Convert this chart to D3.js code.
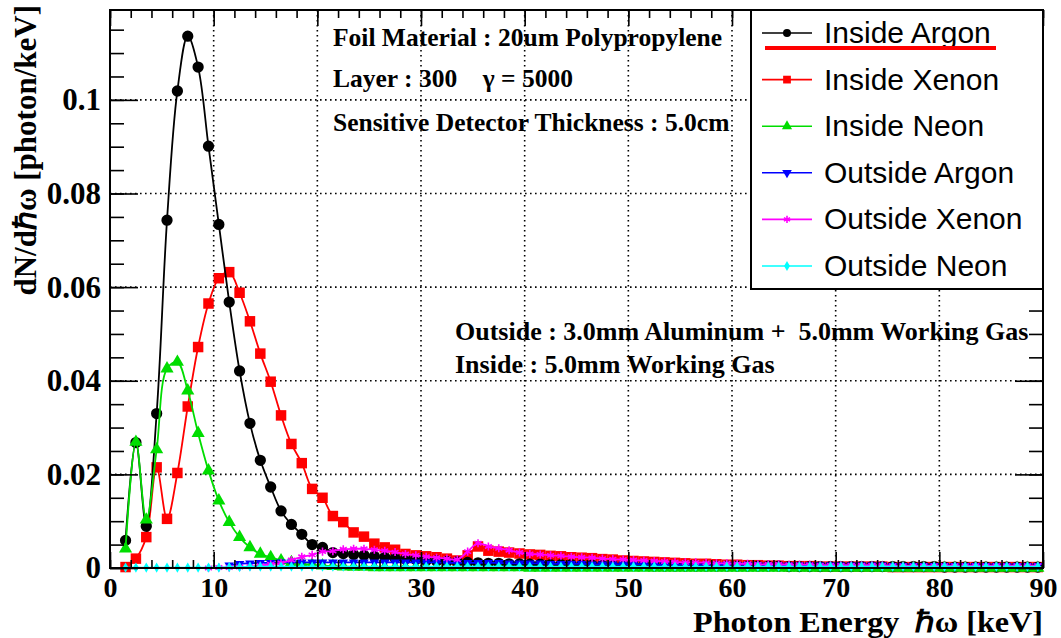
<!DOCTYPE html>
<html>
<head>
<meta charset="utf-8">
<script src="https://cdn.jsdelivr.net/npm/d3@7"></script>
<style>
  body { margin: 0; background: #ffffff; }
  svg { display: block; }
  text { white-space: pre; }
</style>
</head>
<body>
<div class="chart"></div>
<script>
/* Photon spectra, one value per 1 keV bin, first bin centred on 1.5 keV */
var BIN_START = 1.5;

var insideArgon = [
  0.0059, 0.0268, 0.0089, 0.0330, 0.0743, 0.1019, 0.1136, 0.1070, 0.0901,
  0.0734, 0.0568, 0.0421, 0.0309, 0.0230, 0.0173, 0.0122, 0.0093, 0.0072, 0.0050,
  0.0044, 0.0033, 0.0031, 0.0029, 0.0027, 0.0025, 0.0023, 0.0021, 0.0019, 0.0018,
  0.0016, 0.0015, 0.0014, 0.0013, 0.0012, 0.0011, 0.0010, 0.0010, 0.0009, 0.0009,
  0.0008, 0.0008, 0.0007, 0.0007, 0.0007, 0.0006, 0.0006, 0.0006, 0.0005, 0.0005,
  0.0005, 0.0005, 0.0004, 0.0004, 0.0004, 0.0004, 0.0004, 0.0004, 0.0004, 0.0004,
  0.0004, 0.0004, 0.0004, 0.0004, 0.0004, 0.0003, 0.0003, 0.0003, 0.0003, 0.0003,
  0.0003, 0.0003, 0.0003, 0.0003, 0.0003, 0.0003, 0.0003, 0.0003, 0.0003, 0.0003,
  0.0002, 0.0002, 0.0002, 0.0002, 0.0002, 0.0002, 0.0002, 0.0002, 0.0002, 0.0002
];

var insideXenon = [
  0.0002, 0.0020, 0.0066, 0.0215, 0.0105, 0.0203, 0.0345, 0.0472, 0.0565,
  0.0619, 0.0632, 0.0588, 0.0527, 0.0458, 0.0398, 0.0326, 0.0265, 0.0224, 0.0169,
  0.0150, 0.0111, 0.0098, 0.0076, 0.0067, 0.0052, 0.0044, 0.0039, 0.0030, 0.0027,
  0.0025, 0.0023, 0.0020, 0.0016, 0.0027, 0.0046, 0.0037, 0.0035, 0.0033, 0.0031,
  0.0029, 0.0028, 0.0026, 0.0025, 0.0023, 0.0022, 0.0021, 0.0019, 0.0018, 0.0016,
  0.0015, 0.0014, 0.0013, 0.0012, 0.0011, 0.0010, 0.0009, 0.0009, 0.0008, 0.0007,
  0.0007, 0.0006, 0.0006, 0.0005, 0.0005, 0.0004, 0.0004, 0.0004, 0.0003, 0.0003,
  0.0003, 0.0003, 0.0003, 0.0003, 0.0003, 0.0002, 0.0002, 0.0002, 0.0002, 0.0002,
  0.0002, 0.0002, 0.0002, 0.0002, 0.0002, 0.0002, 0.0002, 0.0002, 0.0002, 0.0002
];

var insideNeon = [
  0.0041, 0.0269, 0.0103, 0.0253, 0.0426, 0.0440, 0.0379, 0.0288, 0.0208,
  0.0144, 0.0098, 0.0066, 0.0044, 0.0030, 0.0023, 0.0016, 0.0012, 0.0009, 0.0007,
  0.0005, 0.0004, 0.0003, 0.0002, 0.0002, 0.0001, 0.0001, 0.0001, 0.0001, 0.0001,
  0.0001, 0.0001, 0.0001, 0.0001, 0.0001, 0.0001, 0.0001, 0.0001, 0.0001, 0.0001,
  0.0000, 0.0000, 0.0000, 0.0000, 0.0000, 0.0000, 0.0000, 0.0000, 0.0000, 0.0000,
  0.0000, 0.0000, 0.0000, 0.0000, 0.0000, 0.0000, 0.0000, 0.0000, 0.0000, 0.0000,
  0.0000, 0.0000, 0.0000, 0.0000, 0.0000, 0.0000, 0.0000, 0.0000, 0.0000, 0.0000,
  0.0000, 0.0000, 0.0000, 0.0000, 0.0000, 0.0000, 0.0000, 0.0000, 0.0000, 0.0000,
  0.0000, 0.0000, 0.0000, 0.0000, 0.0000, 0.0000, 0.0000, 0.0000, 0.0000, 0.0000
];

var outsideArgon = [
  null, null, null, null, null, null, null, null, null,
  null, 0.0006, 0.0009, 0.0010, 0.0011, 0.0011, 0.0012, 0.0012, 0.0012, 0.0012,
  0.0012, 0.0012, 0.0012, 0.0012, 0.0012, 0.0012, 0.0012, 0.0012, 0.0012, 0.0012,
  0.0012, 0.0012, 0.0011, 0.0011, 0.0011, 0.0011, 0.0011, 0.0011, 0.0010, 0.0010,
  0.0010, 0.0010, 0.0009, 0.0009, 0.0009, 0.0009, 0.0008, 0.0008, 0.0008, 0.0008,
  0.0008, 0.0008, 0.0007, 0.0007, 0.0007, 0.0007, 0.0007, 0.0007, 0.0007, 0.0007,
  0.0007, 0.0007, 0.0007, 0.0006, 0.0006, 0.0006, 0.0006, 0.0006, 0.0006, 0.0006,
  0.0006, 0.0006, 0.0006, 0.0006, 0.0006, 0.0005, 0.0005, 0.0005, 0.0005, 0.0005,
  0.0005, 0.0005, 0.0005, 0.0005, 0.0005, 0.0005, 0.0005, 0.0005, 0.0005, 0.0005
];

var outsideXenon = [
  null, null, null, null, null, null, null, null, 0.0000,
  0.0001, 0.0001, 0.0002, 0.0003, 0.0005, 0.0008, 0.0011, 0.0017, 0.0024, 0.0028,
  0.0035, 0.0036, 0.0040, 0.0041, 0.0041, 0.0039, 0.0037, 0.0034, 0.0030, 0.0027,
  0.0024, 0.0022, 0.0020, 0.0018, 0.0035, 0.0053, 0.0046, 0.0042, 0.0038, 0.0033,
  0.0030, 0.0029, 0.0027, 0.0026, 0.0024, 0.0023, 0.0022, 0.0020, 0.0019, 0.0018,
  0.0017, 0.0016, 0.0015, 0.0014, 0.0013, 0.0012, 0.0012, 0.0011, 0.0010, 0.0010,
  0.0009, 0.0009, 0.0008, 0.0008, 0.0008, 0.0007, 0.0007, 0.0007, 0.0006, 0.0006,
  0.0006, 0.0006, 0.0006, 0.0006, 0.0006, 0.0005, 0.0005, 0.0005, 0.0005, 0.0005,
  0.0005, 0.0005, 0.0005, 0.0005, 0.0005, 0.0005, 0.0005, 0.0005, 0.0005, 0.0005
];

var outsideNeon = [
  0.0001, 0.0001, 0.0001, 0.0001, 0.0001, 0.0001, 0.0001, 0.0001, 0.0001,
  0.0001, 0.0002, 0.0002, 0.0003, 0.0003, 0.0003, 0.0003, 0.0003, 0.0003, 0.0003,
  0.0003, 0.0003, 0.0003, 0.0003, 0.0003, 0.0003, 0.0003, 0.0003, 0.0003, 0.0003,
  0.0003, 0.0003, 0.0003, 0.0003, 0.0003, 0.0003, 0.0003, 0.0003, 0.0003, 0.0003,
  0.0003, 0.0003, 0.0003, 0.0003, 0.0003, 0.0003, 0.0003, 0.0003, 0.0003, 0.0003,
  0.0003, 0.0003, 0.0003, 0.0003, 0.0003, 0.0003, 0.0003, 0.0003, 0.0003, 0.0003,
  0.0003, 0.0003, 0.0003, 0.0003, 0.0003, 0.0003, 0.0003, 0.0003, 0.0003, 0.0003,
  0.0003, 0.0003, 0.0003, 0.0003, 0.0003, 0.0003, 0.0003, 0.0003, 0.0003, 0.0003,
  0.0003, 0.0003, 0.0003, 0.0003, 0.0003, 0.0003, 0.0003, 0.0003, 0.0003, 0.0003
];

var seriesNames = ["Inside Argon", "Inside Xenon", "Inside Neon",
                   "Outside Argon", "Outside Xenon", "Outside Neon"];

var xTickValues = [0, 10, 20, 30, 40, 50, 60, 70, 80, 90];
var xTickLabels = ["0", "10", "20", "30", "40", "50", "60", "70", "80", "90"];
var yTickValues = [0, 0.02, 0.04, 0.06, 0.08, 0.1];
var yTickLabels = ["0", "0.02", "0.04", "0.06", "0.08", "0.1"];

var topNotes = ["Foil Material : 20um Polypropylene",
                "Layer : 300    \u03b3 = 5000",
                "Sensitive Detector Thickness : 5.0cm"];
var midNotes = ["Outside : 3.0mm Aluminum +  5.0mm Working Gas",
                "Inside : 5.0mm Working Gas"];

var SERIF = "'Liberation Serif', 'Times New Roman', serif";
var SANS = "'Liberation Sans', Arial, sans-serif";

/* Marker look of each series, in legend order */
var STYLES = [
  {color: "#000000", symbol: d3.symbolCircle, size: 100, legendSize: 50, rotate: 0},
  {color: "#ff0000", symbol: d3.symbolSquare, size: 110, legendSize: 60, rotate: 0},
  {color: "#00dd00", symbol: d3.symbolTriangle, size: 75, legendSize: 45, rotate: 0},
  {color: "#0000ff", symbol: d3.symbolTriangle, size: 40, legendSize: 40, rotate: 180},
  {color: "#ff00ff", symbol: d3.symbolAsterisk, size: 45, legendSize: 35, rotate: 0, stroke: true},
  {color: "#00ffff", symbol: d3.symbolDiamond, size: 30, legendSize: 30, rotate: 0}
];

var dataSets = [insideArgon, insideXenon, insideNeon,
                outsideArgon, outsideXenon, outsideNeon];

var svg = d3.select("div.chart").append("svg")
  .attr("width", 1061)
  .attr("height", 638);

var x = d3.scaleLinear().domain([0, 90]).range([110, 1043]);
var y = d3.scaleLinear().domain([0, 0.1192]).range([568, 10]);

/* Dotted grid at the major ticks */
var grid = svg.append("g")
  .attr("stroke", "#000")
  .attr("stroke-width", 1.6)
  .attr("stroke-dasharray", "1.6,3.4");
grid.selectAll("line.gx")
  .data(xTickValues.slice(1, -1))
  .enter().append("line")
  .attr("x1", function (d) { return x(d); })
  .attr("x2", function (d) { return x(d); })
  .attr("y1", y.range()[1])
  .attr("y2", y.range()[0]);
grid.selectAll("line.gy")
  .data(yTickValues.slice(1))
  .enter().append("line")
  .attr("y1", function (d) { return y(d); })
  .attr("y2", function (d) { return y(d); })
  .attr("x1", x.range()[0])
  .attr("x2", x.range()[1]);

/* Draw order: xenon first, so the argon curve sits on top as in the plot */
var drawOrder = [1, 0, 2, 3, 4, 5];

var line = d3.line()
  .defined(function (d) { return d.v !== null; })
  .x(function (d) { return x(d.e); })
  .y(function (d) { return y(d.v); })
  .curve(d3.curveCatmullRom.alpha(0.5));

drawOrder.forEach(function (index) {
  var style = STYLES[index];
  var points = dataSets[index].map(function (v, i) {
    return {e: BIN_START + i, v: v};
  });
  var g = svg.append("g");
  g.append("path")
    .datum(points)
    .attr("fill", "none")
    .attr("stroke", style.color)
    .attr("stroke-width", 1.8)
    .attr("d", line);
  g.selectAll("path.marker")
    .data(points.filter(function (p) { return p.v !== null; }))
    .enter().append("path")
    .attr("class", "marker")
    .attr("d", d3.symbol().type(style.symbol).size(style.size))
    .attr("transform", function (p) {
      return "translate(" + x(p.e) + "," + y(p.v) + ") rotate(" + style.rotate + ")";
    })
    .attr("fill", style.stroke ? "none" : style.color)
    .attr("stroke", style.stroke ? style.color : "none")
    .attr("stroke-width", 1.6);
});

/* Ticks point inwards on all four sides, ROOT style */
function addTicks(axis, transform) {
  svg.append("g")
    .attr("transform", transform)
    .call(axis)
    .call(function (g) {
      g.select(".domain").remove();
      g.selectAll("line").attr("stroke-width", 1.6);
    });
}

var xMinor = d3.range(0, 91, 2);
var yMinor = d3.range(0, 0.119, 0.005);

addTicks(d3.axisBottom(x).tickValues(xMinor).tickSize(-8).tickFormat(""), "translate(0,568)");
addTicks(d3.axisTop(x).tickValues(xMinor).tickSize(-8).tickFormat(""), "translate(0,10)");
addTicks(d3.axisTop(x).tickValues(xTickValues).tickSize(-16).tickFormat(""), "translate(0,10)");
addTicks(d3.axisLeft(y).tickValues(yMinor).tickSize(-14).tickFormat(""), "translate(110,0)");
addTicks(d3.axisRight(y).tickValues(yMinor).tickSize(-14).tickFormat(""), "translate(1043,0)");
addTicks(d3.axisRight(y).tickValues(yTickValues).tickSize(-28).tickFormat(""), "translate(1043,0)");

/* Labelled axes */
svg.append("g")
  .attr("transform", "translate(0,568)")
  .call(d3.axisBottom(x).tickValues(xTickValues).tickSize(-16).tickPadding(9)
          .tickFormat(function (d, i) { return xTickLabels[i]; }))
  .call(function (g) {
    g.select(".domain").remove();
    g.selectAll("line").attr("stroke-width", 1.6);
    g.selectAll("text")
      .attr("font-family", SERIF)
      .attr("font-weight", "bold")
      .attr("font-size", 28)
      .attr("fill", "#000");
  });

svg.append("g")
  .attr("transform", "translate(110,0)")
  .call(d3.axisLeft(y).tickValues(yTickValues).tickSize(-28).tickPadding(9)
          .tickFormat(function (d, i) { return yTickLabels[i]; }))
  .call(function (g) {
    g.select(".domain").remove();
    g.selectAll("line").attr("stroke-width", 1.6);
    g.selectAll("text")
      .attr("font-family", SERIF)
      .attr("font-weight", "bold")
      .attr("font-size", 31)
      .attr("fill", "#000");
  });

/* Frame */
svg.append("rect")
  .attr("x", 110).attr("y", 10)
  .attr("width", 933).attr("height", 558)
  .attr("fill", "none")
  .attr("stroke", "#000")
  .attr("stroke-width", 2);

/* Axis titles */
svg.append("text")
  .attr("x", 1043).attr("y", 632)
  .attr("text-anchor", "end")
  .attr("font-family", SERIF)
  .attr("font-weight", "bold")
  .attr("font-size", 30)
  .attr("textLength", 350)
  .attr("lengthAdjust", "spacingAndGlyphs")
  .text("Photon Energy  \u210fω [keV]");

svg.append("text")
  .attr("transform", "translate(36,5) rotate(-90)")
  .attr("text-anchor", "end")
  .attr("font-family", SERIF)
  .attr("font-weight", "bold")
  .attr("font-size", 31)
  .text("dN/d\u210fω [photon/keV]");

/* Annotations */
var notes = svg.append("g")
  .attr("font-family", SERIF)
  .attr("font-weight", "bold");
topNotes.forEach(function (t, i) {
  notes.append("text").attr("x", 333).attr("y", [46, 87, 131][i])
    .attr("font-size", 25.5).text(t);
});
midNotes.forEach(function (t, i) {
  notes.append("text").attr("x", 455).attr("y", [340, 373][i])
    .attr("font-size", 26).text(t);
});

/* Legend */
var legend = svg.append("g");
legend.append("rect")
  .attr("x", 751).attr("y", 10)
  .attr("width", 292).attr("height", 279)
  .attr("fill", "#fff")
  .attr("stroke", "#000")
  .attr("stroke-width", 2);

seriesNames.forEach(function (name, i) {
  var style = STYLES[i];
  var rowY = 33 + i * 46.6;
  legend.append("line")
    .attr("x1", 762).attr("x2", 812)
    .attr("y1", rowY).attr("y2", rowY)
    .attr("stroke", style.color)
    .attr("stroke-width", 1.6);
  legend.append("path")
    .attr("d", d3.symbol().type(style.symbol).size(style.legendSize))
    .attr("transform", "translate(787," + rowY + ") rotate(" + style.rotate + ")")
    .attr("fill", style.stroke ? "none" : style.color)
    .attr("stroke", style.stroke ? style.color : "none")
    .attr("stroke-width", 1.6);
  legend.append("text")
    .attr("x", 824).attr("y", rowY + 10)
    .attr("font-family", SANS)
    .attr("font-size", 30)
    .text(name);
});

/* Hand-drawn red underline below the first legend entry */
legend.append("line")
  .attr("x1", 765).attr("x2", 996)
  .attr("y1", 48).attr("y2", 48)
  .attr("stroke", "#ff0000")
  .attr("stroke-width", 4);
</script>
</body>
</html>
